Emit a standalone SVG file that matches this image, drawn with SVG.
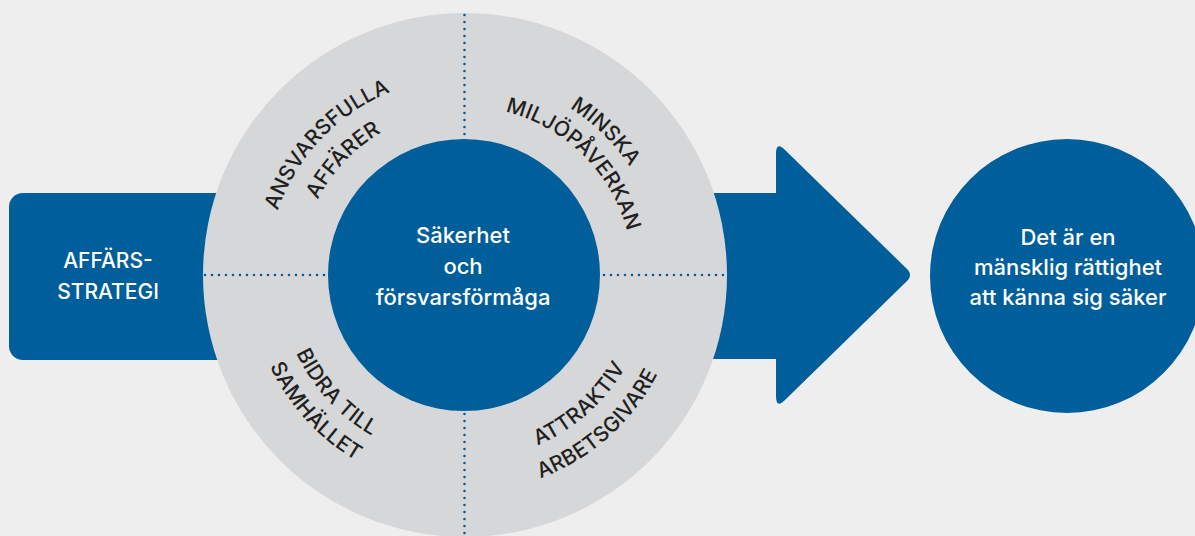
<svg xmlns="http://www.w3.org/2000/svg" width="1195" height="536" viewBox="0 0 1195 536">
<style>
.blue{fill:#005f9b}
.ring{fill:#d6d7d9}
.wt{fill:#ffffff;font-family:Inter,"Liberation Sans",Arial,sans-serif;font-weight:550;font-size:22px;text-anchor:middle}
.wl{font-size:21px;font-weight:500}
.ct{fill:#231f20;font-family:Inter,"Liberation Sans",Arial,sans-serif;font-weight:500;font-size:21px;text-anchor:middle;letter-spacing:0.2px}
.dot{stroke:#005f9b;stroke-width:2.6;stroke-linecap:round;stroke-dasharray:0 7;fill:none}
</style>
<defs>
<path id="p1" d="M275.1,331.1 A197.5,197.5 0 0 1 510.6,83.0"/>
<path id="p2" d="M306.3,321.9 A165,165 0 0 1 503.0,114.6"/>
<path id="p3" d="M411.7,84.7 A197.5,197.5 0 0 1 655.7,324.5"/>
<path id="p4" d="M419.5,112.6 A168.5,168.5 0 0 1 627.6,317.2"/>
<path id="p5" d="M287.6,219.2 A185.5,185.5 0 0 0 504.6,456.1"/>
<path id="p6" d="M259.5,210.3 A215,215 0 0 0 511.0,484.9"/>
<path id="p7" d="M406.3,451.1 A185.5,185.5 0 0 0 646.1,237.4"/>
<path id="p8" d="M396.4,481.0 A217,217 0 0 0 677.0,231.0"/>
</defs>
<rect x="0" y="0" width="1195" height="536" fill="#eeeeee"/>
<g id="affarsstrategi">
<rect class="blue" x="9" y="193" width="320" height="167" rx="14"/>
<text class="wt wl" x="108" y="268">AFFÄRS-</text>
<text class="wt wl" x="108" y="299">STRATEGI</text>
</g>
<g id="pil">
<path class="blue" d="M600,193 H776 V154 Q776,141 785,150 L906,268 Q914,275 906,282 L785,400 Q776,409 776,396 V359 H600 Z"/>
</g>
<g id="ring">
<circle class="ring" cx="465" cy="275" r="262"/>
</g>
<g id="connectors">
<line class="dot" x1="464.5" y1="15" x2="464.5" y2="536"/>
<line class="dot" x1="205" y1="275" x2="726" y2="275"/>
</g>
<g id="ansvarsfulla">
<text class="ct"><textPath href="#p1" startOffset="50%">ANSVARSFULLA</textPath></text>
<text class="ct"><textPath href="#p2" startOffset="50%">AFFÄRER</textPath></text>
</g>
<g id="minska">
<text class="ct"><textPath href="#p3" startOffset="50%">MINSKA</textPath></text>
<text class="ct"><textPath href="#p4" startOffset="50%">MILJÖPÅVERKAN</textPath></text>
</g>
<g id="bidra">
<text class="ct"><textPath href="#p5" startOffset="50%">BIDRA TILL</textPath></text>
<text class="ct"><textPath href="#p6" startOffset="50%">SAMHÄLLET</textPath></text>
</g>
<g id="attraktiv">
<text class="ct"><textPath href="#p7" startOffset="50%">ATTRAKTIV</textPath></text>
<text class="ct"><textPath href="#p8" startOffset="50%">ARBETSGIVARE</textPath></text>
</g>
<g id="sakerhet">
<circle class="blue" cx="464" cy="275" r="136"/>
<text class="wt" x="463" y="243">Säkerhet</text>
<text class="wt" x="463" y="274">och</text>
<text class="wt" x="463" y="305">försvarsförmåga</text>
</g>
<g id="rattighet">
<circle class="blue" cx="1067" cy="276" r="137"/>
<text class="wt" x="1068" y="245">Det är en</text>
<text class="wt" x="1068" y="275">mänsklig rättighet</text>
<text class="wt" x="1068" y="305">att känna sig säker</text>
</g>
</svg>
